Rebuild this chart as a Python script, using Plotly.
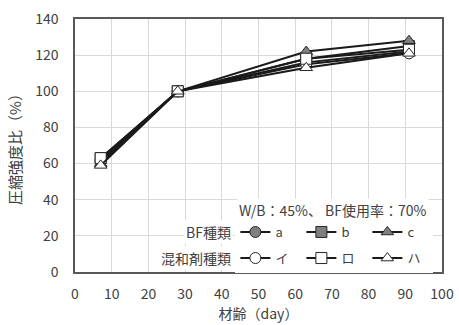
import plotly.graph_objects as go

# 材齢（日）
days = [7, 28, 63, 91]

# BF種類ごとの圧縮強度比（%）
bf_names = ["a", "b", "c"]
bf_a = [61, 100, 116, 122]
bf_b = [63, 100, 118, 125]
bf_c = [60, 100, 122, 128]

# 混和剤種類ごとの圧縮強度比（%）
ad_names = ["イ", "ロ", "ハ"]
ad_i = [62, 100, 115, 121]
ad_ro = [63, 100, 118, 123]
ad_ha = [59, 100, 113, 121]

x_ticks = list(range(0, 101, 10))
y_ticks = list(range(0, 141, 20))

FONT = "Noto Sans CJK JP, Noto Sans, sans-serif"
TXT = "#404040"
symbols = ["circle", "square", "triangle-up"]

fig = go.Figure()

for name, vals, sym in zip(bf_names, [bf_a, bf_b, bf_c], symbols):
    fig.add_trace(go.Scatter(
        x=days, y=vals, name=name, mode="lines+markers",
        line=dict(color="#1a1a1a", width=2),
        marker=dict(symbol=sym, size=11, color="#7f7f7f",
                    line=dict(color="#262626", width=1)),
        legend="legend",
    ))

for name, vals, sym in zip(ad_names, [ad_i, ad_ro, ad_ha], symbols):
    fig.add_trace(go.Scatter(
        x=days, y=vals, name=name, mode="lines+markers",
        line=dict(color="#1a1a1a", width=2),
        marker=dict(symbol=sym, size=11, color="white",
                    line=dict(color="#262626", width=1)),
        legend="legend2",
    ))

legend_common = dict(
    orientation="h", bgcolor="white", borderwidth=0,
    font=dict(family=FONT, size=13, color=TXT),
    entrywidthmode="pixels", entrywidth=21, itemwidth=30,
    xanchor="left", yanchor="middle", tracegroupgap=0,
)

fig.update_layout(
    width=459, height=325,
    margin=dict(l=75, r=17, t=19, b=53, autoexpand=False),
    paper_bgcolor="white", plot_bgcolor="white",
    font=dict(family=FONT, size=14, color=TXT),
    showlegend=True,
    legend=dict(x=0.437, y=0.158, **legend_common),
    legend2=dict(x=0.437, y=0.055, **legend_common),
    xaxis=dict(
        range=[0, 100], tickvals=x_ticks, showgrid=True, automargin=False,
        gridcolor="#d9d9d9", gridwidth=1, zeroline=False,
        showline=True, linecolor="#595959", linewidth=1.5, mirror=True,
        ticks="", ticklabelstandoff=8, tickfont=dict(size=14, color=TXT),
        title=dict(text="材齢（day）", font=dict(size=14, color=TXT), standoff=8),
    ),
    yaxis=dict(
        range=[0, 140], tickvals=y_ticks, showgrid=True, automargin=False,
        gridcolor="#d9d9d9", gridwidth=1, zeroline=False,
        showline=True, linecolor="#595959", linewidth=1.5, mirror=True,
        ticks="", ticklabelstandoff=12, tickfont=dict(size=14, color=TXT),
        title=dict(text="圧縮強度比（%）", font=dict(size=15, color=TXT), standoff=10),
    ),
    annotations=[
        dict(text="W/B：45%、 BF使用率：70%", xref="paper", yref="paper",
             x=0.965, y=0.245, xanchor="right", yanchor="middle", showarrow=False,
             bgcolor="white", font=dict(size=14, color=TXT)),
        dict(text="BF種類", xref="paper", yref="paper",
             x=0.43, y=0.158, xanchor="right", yanchor="middle", showarrow=False,
             bgcolor="white", font=dict(size=14, color=TXT)),
        dict(text="混和剤種類", xref="paper", yref="paper",
             x=0.43, y=0.055, xanchor="right", yanchor="middle", showarrow=False,
             bgcolor="white", font=dict(size=14, color=TXT)),
    ],
)

fig.write_html("out.html")
